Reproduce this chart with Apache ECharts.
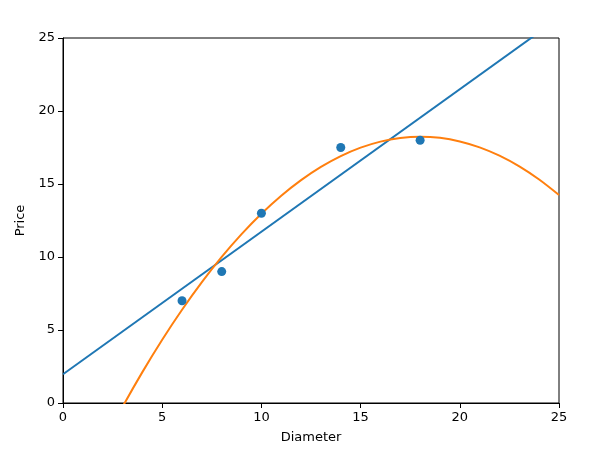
<!DOCTYPE html>
<html>
<head>
<meta charset="utf-8">
<script src="https://cdn.jsdelivr.net/npm/echarts@6/dist/echarts.min.js"></script>
<style>html,body{margin:0;padding:0;background:#fff;overflow:hidden}#c{width:605px;height:449px}</style>
</head>
<body>
<div id="c"></div>
<script>
const diameters = [6, 8, 10, 14, 18];
const prices = [7, 9, 13, 17.5, 18];
const linearX = [0, 25];
const linearY = [1.966, 26.373];
const quadX = [0,1,2,3,4,5,6,7,8,9,10,11,12,13,14,15,16,17,18,19,20,21,22,23,24,25];
const quadY = [-8.397,-5.523,-2.813,-0.267,2.115,4.332,6.387,8.277,10.003,11.564,12.962,14.196,15.265,16.171,16.912,17.489,17.903,18.153,18.239,18.160,17.917,17.510,16.939,16.204,15.304,14.242];
const ticks = [0, 5, 10, 15, 20, 25];

const font = 'DejaVu Sans';
const chart = echarts.init(document.getElementById('c'));
const axisCommon = {
  type: 'value', min: ticks[0], max: ticks[ticks.length - 1], interval: ticks[1] - ticks[0],
  axisLine: {show: true, lineStyle: {color: '#000', width: 1}},
  axisTick: {show: true, inside: false, length: 5, lineStyle: {color: '#000'}},
  axisLabel: {color: '#000', fontFamily: font, fontSize: 13, margin: 8},
  splitLine: {show: false},
  nameLocation: 'middle',
  nameTextStyle: {color: '#000', fontFamily: font, fontSize: 13}
};
chart.setOption({
  animation: false,
  grid: {left: 63, right: 46, top: 38, bottom: 42, show: true, borderColor: '#000', borderWidth: 1, containLabel: false},
  xAxis: Object.assign({}, axisCommon, {name: 'Diameter', nameGap: 28}),
  yAxis: Object.assign({}, axisCommon, {name: 'Price', nameGap: 35}),
  series: [
    {type: 'line', data: linearX.map((x, i) => [x, linearY[i]]), showSymbol: false, clip: true,
     lineStyle: {color: '#1f77b4', width: 2}, z: 2},
    {type: 'line', data: quadX.map((x, i) => [x, quadY[i]]), showSymbol: false, smooth: 0.3, clip: true,
     lineStyle: {color: '#ff7f0e', width: 2}, z: 3},
    {type: 'scatter', data: diameters.map((x, i) => [x, prices[i]]), symbolSize: 9,
     itemStyle: {color: '#1f77b4', opacity: 1}, z: 4}
  ]
});
</script>
</body>
</html>
